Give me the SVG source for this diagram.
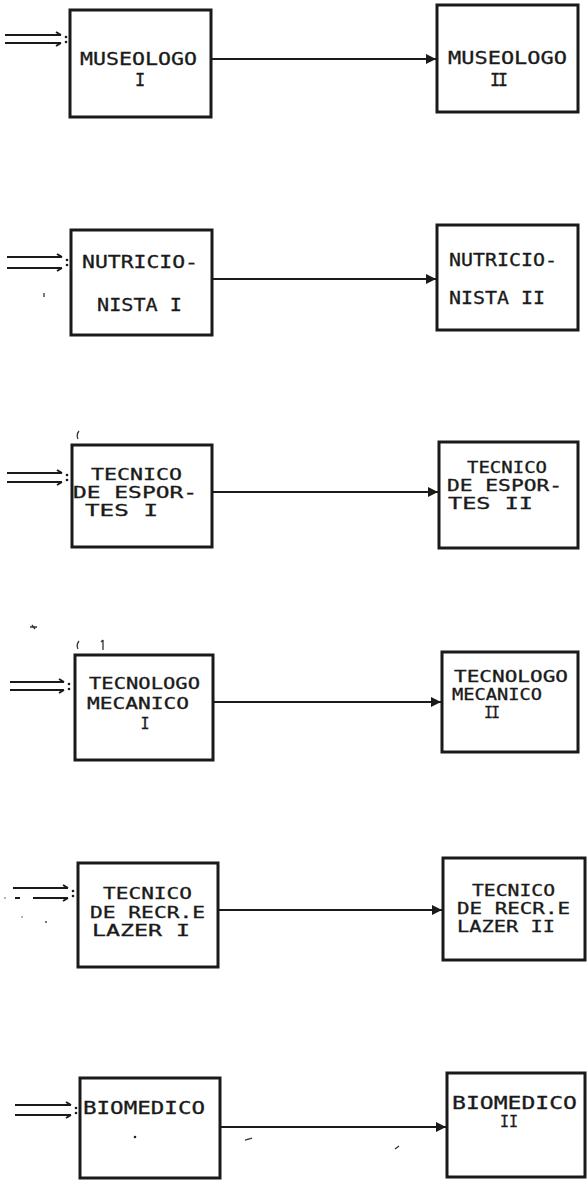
<svg xmlns="http://www.w3.org/2000/svg" width="587" height="1184" viewBox="0 0 587 1184">
<style>
.box{fill:#fff;stroke:#1a1a1a;stroke-width:3}
.t{font-family:"DejaVu Sans Mono","Liberation Mono",monospace;font-size:15px;fill:#1a1a1a;stroke:#1a1a1a;stroke-width:0.3}
.L{font-size:17px}
.c{stroke:#1a1a1a;stroke-width:2;fill:none}
.in{stroke:#1a1a1a;stroke-width:2;fill:none}
.mk{stroke:#333;stroke-width:1.3;fill:none}
</style>
<defs>
<marker id="ah" viewBox="0 0 10 10" refX="10" refY="5" markerWidth="5" markerHeight="5" orient="auto" markerUnits="strokeWidth">
<path d="M0,0 L10,5 L0,10 z" fill="#1a1a1a"/>
</marker>
</defs>
<g id="connectors">
<line class="c" x1="211" y1="59" x2="436" y2="59" marker-end="url(#ah)"/>
<line class="c" x1="212" y1="279" x2="436" y2="279" marker-end="url(#ah)"/>
<line class="c" x1="212" y1="492" x2="438" y2="492" marker-end="url(#ah)"/>
<line class="c" x1="213" y1="702" x2="441" y2="702" marker-end="url(#ah)"/>
<line class="c" x1="218" y1="910" x2="442" y2="910" marker-end="url(#ah)"/>
<line class="c" x1="220" y1="1127" x2="446" y2="1127" marker-end="url(#ah)"/>
<g id="inputs">
<path class="in" d="M5,35 H61 M56,32 L61,35 M5,43 H61 M56,46 L61,43"/>
<circle cx="66" cy="37" r="1.3" fill="#1a1a1a"/><circle cx="66" cy="42" r="1.3" fill="#1a1a1a"/>
<path class="in" d="M7,257 H62 M57,254 L62,257 M7,268 H62 M57,271 L62,268"/>
<circle cx="67" cy="260" r="1.3" fill="#1a1a1a"/><circle cx="67" cy="265" r="1.3" fill="#1a1a1a"/>
<path class="in" d="M7,473 H62 M57,470 L62,473 M7,482 H62 M57,485 L62,482"/>
<circle cx="67" cy="475" r="1.3" fill="#1a1a1a"/><circle cx="67" cy="480" r="1.3" fill="#1a1a1a"/>
<path class="in" d="M10,682 H64 M59,679 L64,682 M10,690 H64 M59,693 L64,690"/>
<circle cx="69" cy="684" r="1.3" fill="#1a1a1a"/><circle cx="69" cy="689" r="1.3" fill="#1a1a1a"/>
<path class="in" d="M13,888 H68 M63,885 L68,888 M33,898 H68 M63,901 L68,898 M15,898 H20"/>
<circle cx="73" cy="891" r="1.3" fill="#1a1a1a"/><circle cx="73" cy="896" r="1.3" fill="#1a1a1a"/>
<path class="in" d="M15,1105 H71 M66,1102 L71,1105 M15,1115 H71 M66,1118 L71,1115"/>
<circle cx="76" cy="1108" r="1.3" fill="#1a1a1a"/><circle cx="76" cy="1113" r="1.3" fill="#1a1a1a"/>
</g>
</g>
<g id="museologo1"><rect class="box" x="70" y="10" width="141" height="107"/>
<text class="t L" x="80" y="65" textLength="117" lengthAdjust="spacingAndGlyphs">MUSEOLOGO</text>
<text class="t L" x="140" y="86" text-anchor="middle">I</text></g>
<g id="museologo2"><rect class="box" x="437" y="5" width="141" height="107"/>
<text class="t L" x="448" y="64" textLength="119" lengthAdjust="spacingAndGlyphs">MUSEOLOGO</text>
<text class="t L" x="490" y="86" textLength="18" lengthAdjust="spacing">II</text></g>
<g id="nutricionista1"><rect class="box" x="71" y="230" width="141" height="105"/>
<text class="t L" x="82" y="268" textLength="116" lengthAdjust="spacingAndGlyphs">NUTRICIO-</text>
<text class="t L" x="97" y="311" textLength="85" lengthAdjust="spacingAndGlyphs">NISTA I</text></g>
<g id="nutricionista2"><rect class="box" x="437" y="225" width="141" height="105"/>
<text class="t L" x="449" y="266" textLength="108" lengthAdjust="spacingAndGlyphs">NUTRICIO-</text>
<text class="t L" x="449" y="304" textLength="96" lengthAdjust="spacingAndGlyphs">NISTA II</text></g>
<g id="esportes1"><rect class="box" x="72" y="445" width="140" height="102"/>
<text class="t" x="91" y="480" textLength="91" lengthAdjust="spacingAndGlyphs">TECNICO</text>
<text class="t" x="73" y="498" textLength="124" lengthAdjust="spacingAndGlyphs">DE ESPOR-</text>
<text class="t" x="85" y="516" textLength="73" lengthAdjust="spacingAndGlyphs">TES I</text></g>
<g id="esportes2"><rect class="box" x="439" y="442" width="139" height="106"/>
<text class="t" x="467" y="473" textLength="80" lengthAdjust="spacingAndGlyphs">TECNICO</text>
<text class="t" x="447" y="491" textLength="115" lengthAdjust="spacingAndGlyphs">DE ESPOR-</text>
<text class="t" x="448" y="509" textLength="85" lengthAdjust="spacingAndGlyphs">TES II</text></g>
<g id="mecanico1"><rect class="box" x="75" y="655" width="138" height="105"/>
<text class="t" x="89" y="689" textLength="111" lengthAdjust="spacingAndGlyphs">TECNOLOGO</text>
<text class="t" x="87" y="709" textLength="102" lengthAdjust="spacingAndGlyphs">MECANICO</text>
<text class="t" x="145" y="729" text-anchor="middle">I</text></g>
<g id="mecanico2"><rect class="box" x="442" y="652" width="136" height="100"/>
<text class="t" x="454" y="682" textLength="114" lengthAdjust="spacingAndGlyphs">TECNOLOGO</text>
<text class="t" x="452" y="700" textLength="90" lengthAdjust="spacingAndGlyphs">MECANICO</text>
<text class="t" x="484" y="718" textLength="16" lengthAdjust="spacing">II</text></g>
<g id="lazer1"><rect class="box" x="78" y="863" width="140" height="104"/>
<text class="t" x="103" y="899" textLength="89" lengthAdjust="spacingAndGlyphs">TECNICO</text>
<text class="t" x="90" y="918" textLength="115" lengthAdjust="spacingAndGlyphs">DE RECR.E</text>
<text class="t" x="92" y="936" textLength="98" lengthAdjust="spacingAndGlyphs">LAZER I</text></g>
<g id="lazer2"><rect class="box" x="443" y="858" width="142" height="102"/>
<text class="t" x="472" y="896" textLength="83" lengthAdjust="spacingAndGlyphs">TECNICO</text>
<text class="t" x="457" y="914" textLength="113" lengthAdjust="spacingAndGlyphs">DE RECR.E</text>
<text class="t" x="457" y="932" textLength="98" lengthAdjust="spacingAndGlyphs">LAZER II</text></g>
<g id="biomedico1"><rect class="box" x="80" y="1078" width="140" height="100"/>
<text class="t L" x="83" y="1114" textLength="122" lengthAdjust="spacingAndGlyphs">BIOMEDICO</text></g>
<g id="biomedico2"><rect class="box" x="447" y="1073" width="138" height="104"/>
<text class="t L" x="452" y="1109" textLength="125" lengthAdjust="spacingAndGlyphs">BIOMEDICO</text>
<text class="t" x="500" y="1127" textLength="18" lengthAdjust="spacing">II</text></g>
<g id="marks">
<path class="mk" d="M79,431 Q76,435 78,439"/>
<path class="mk" d="M79,641 Q76,645 78,649 M103,640 V650 M101,642 L103,640"/>
<path class="mk" d="M30,627 H37 M32,625 L35,629"/>
<path class="mk" d="M44,293 V297"/>
<circle cx="135" cy="1137" r="1.3" fill="#222"/>
<path class="mk" d="M245,1140 L252,1138"/>
<path class="mk" d="M395,1149 L399,1146"/>
<circle cx="5" cy="898" r="0.8" fill="#555"/>
<circle cx="22" cy="917" r="0.8" fill="#555"/>
<circle cx="46" cy="922" r="1" fill="#444"/>
</g>
</svg>
